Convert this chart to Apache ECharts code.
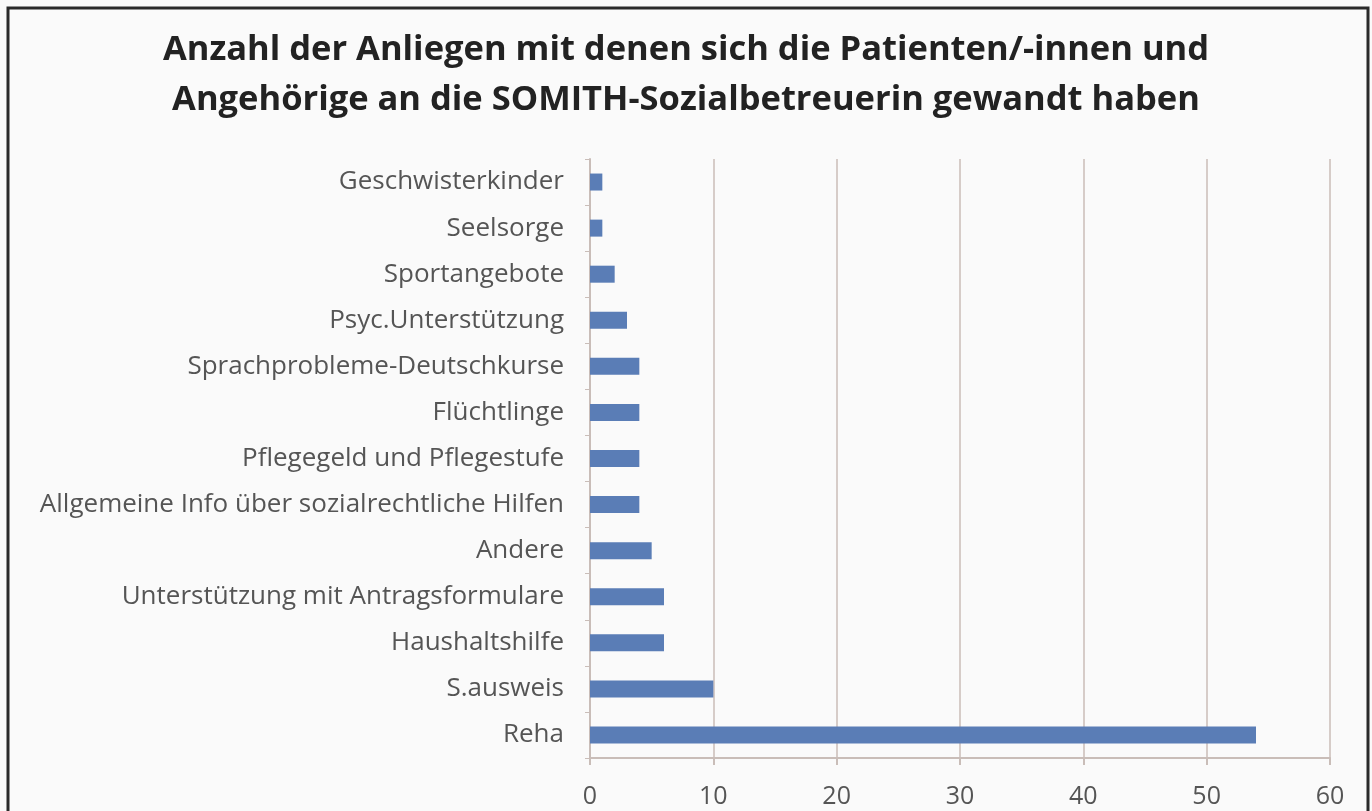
<!DOCTYPE html>
<html><head><meta charset="utf-8">
<script src="https://cdn.jsdelivr.net/npm/echarts@6/dist/echarts.min.js"></script>
<style>html,body{margin:0;padding:0;background:#fafafa;}#c{width:1372px;height:811px;}</style>
</head><body><div id="c"></div>
<script>
const categories = ["Geschwisterkinder","Seelsorge","Sportangebote","Psyc.Unterstützung","Sprachprobleme-Deutschkurse","Flüchtlinge","Pflegegeld und Pflegestufe","Allgemeine Info über sozialrechtliche Hilfen","Andere","Unterstützung mit Antragsformulare","Haushaltshilfe","S.ausweis","Reha"];
const values = [1,1,2,3,4,4,4,4,5,6,6,10,54];
const titleText = "Anzahl der Anliegen mit denen sich die Patienten/-innen und\nAngehörige an die SOMITH-Sozialbetreuerin gewandt haben";
const chart = echarts.init(document.getElementById('c'));
chart.setOption({
  backgroundColor:'#fafafa',
  animation:false,
  graphic:[{type:'rect',shape:{x:8,y:8,width:1360,height:820},style:{fill:'none',stroke:'#2a2a2a',lineWidth:3},silent:true}],
  title:{text:titleText,left:'center',top:20,textStyle:{fontFamily:'Open Sans',fontWeight:'bold',fontSize:34.5,color:'#222',lineHeight:50}},
  grid:{left:590,right:42,top:159,bottom:53,containLabel:false},
  xAxis:{type:'value',min:0,max:60,interval:10,
    axisLine:{show:true,lineStyle:{color:'#c9bdb8',width:2}},
    axisTick:{show:true,length:7,lineStyle:{color:'#c9bdb8',width:2}},
    splitLine:{show:true,lineStyle:{color:'#d6ccc8',width:2}},
    axisLabel:{fontFamily:'Open Sans',fontSize:25,color:'#555',margin:26}},
  yAxis:{type:'category',data:categories,inverse:true,
    axisLine:{show:true,lineStyle:{color:'#c9bdb8',width:2}},
    axisTick:{show:true,length:5,lineStyle:{color:'#c9bdb8'}},
    axisLabel:{fontFamily:'Open Sans',fontSize:26,color:'#555',margin:26}},
  series:[{type:'bar',data:values,barWidth:17,itemStyle:{color:'#5a7db6'}}]
});
</script></body></html>
